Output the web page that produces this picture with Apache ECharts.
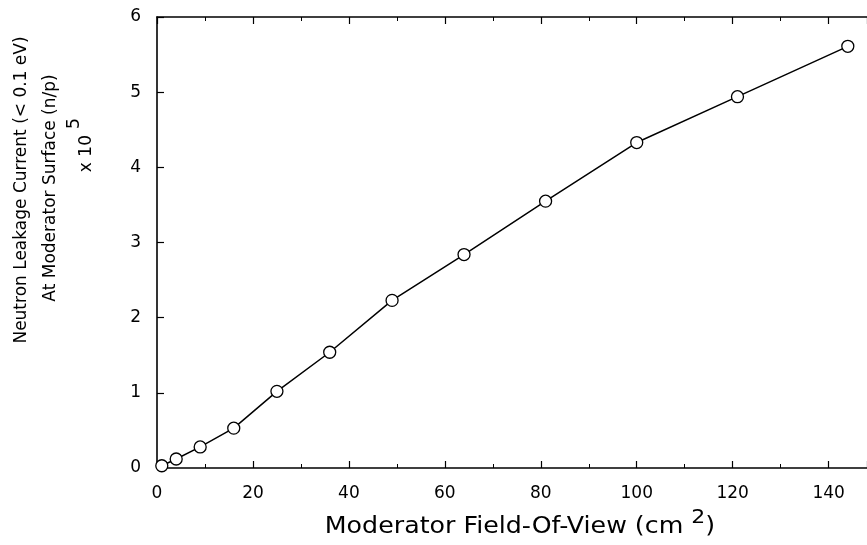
<!DOCTYPE html>
<html>
<head>
<meta charset="utf-8">
<script src="https://cdn.jsdelivr.net/npm/echarts@6/dist/echarts.min.js"></script>
<style>
    html, body { margin: 0; background: #fff; }
    #chart { width: 867px; height: 545px; }
</style>
</head>
<body>
<div id="chart"></div>
<script>
// moderator field-of-view (cm^2)
let fov = [1, 4, 9, 16, 25, 36, 49, 64, 81, 100, 121, 144];
// neutron leakage current (< 0.1 eV), n/p x 10^5
let leakage = [0.03, 0.12, 0.28, 0.53, 1.02, 1.54, 2.23, 2.84, 3.55, 4.33, 4.94, 5.61];
// tick labels
let xTicks = [0, 20, 40, 60, 80, 100, 120, 140];
let yTicks = [0, 1, 2, 3, 4, 5, 6];

let fontName = 'DejaVu Sans';
let ink = '#000';

function build_points() {
    let pts = [];
    for (let i = 0; i < fov.length; i++) {
        pts.push([fov[i], leakage[i]]);
    }
    return pts;
}

let chart = echarts.init(document.getElementById('chart'));

// plot is cut off at the right edge in the original, so the axis runs a bit past 140
let xBase = {
    type: 'value',
    min: xTicks[0],
    max: 148,
    interval: xTicks[1] - xTicks[0],
    splitLine: {show: false},
    axisLine: {show: true, lineStyle: {color: ink, width: 1.6}},
    axisTick: {show: true, inside: true, length: 7, lineStyle: {color: ink, width: 1.2}},
    minorTick: {show: true, splitNumber: 2, length: 4, lineStyle: {color: ink, width: 1}},
    minorSplitLine: {show: false}
};

let option = {
    backgroundColor: '#fff',
    animation: false,
    grid: {left: 157, right: 0, top: 17, bottom: 77},
    xAxis: [
        Object.assign({}, xBase, {
            position: 'bottom',
            axisLabel: {
                show: true, margin: 17, color: ink, fontFamily: fontName, fontSize: 17,
                customValues: xTicks
            }
        }),
        Object.assign({}, xBase, {
            position: 'top',
            axisLabel: {show: false}
        })
    ],
    yAxis: {
        type: 'value',
        min: yTicks[0],
        max: yTicks[yTicks.length - 1],
        interval: yTicks[1] - yTicks[0],
        splitLine: {show: false},
        axisLine: {show: true, lineStyle: {color: ink, width: 1.6}},
        axisTick: {show: true, inside: true, length: 7, lineStyle: {color: ink, width: 1.2}},
        axisLabel: {margin: 16, color: ink, fontFamily: fontName, fontSize: 17}
    },
    series: [{
        type: 'line',
        xAxisIndex: 0,
        data: build_points(),
        symbol: 'circle',
        symbolSize: 12,
        showAllSymbol: true,
        lineStyle: {color: ink, width: 1.5},
        itemStyle: {color: '#fff', borderColor: ink, borderWidth: 1.3}
    }],
    graphic: [
        {
            type: 'text', x: 22, y: 190, rotation: Math.PI / 2,
            style: {
                text: 'Neutron Leakage Current (< 0.1 eV)', fill: ink,
                font: '17px "DejaVu Sans"', align: 'center', verticalAlign: 'middle'
            }
        },
        {
            type: 'text', x: 51, y: 188, rotation: Math.PI / 2,
            style: {
                text: 'At Moderator Surface (n/p)', fill: ink,
                font: '17px "DejaVu Sans"', align: 'center', verticalAlign: 'middle'
            }
        },
        {
            type: 'text', x: 80, y: 145, rotation: Math.PI / 2,
            style: {
                text: '{m|x 10}{s| 5}', fill: ink, align: 'center', verticalAlign: 'middle',
                rich: {
                    m: {fontFamily: fontName, fontSize: 17, verticalAlign: 'bottom'},
                    s: {fontFamily: fontName, fontSize: 18, verticalAlign: 'bottom', padding: [0, 0, 12, 0]}
                }
            }
        },
        {
            type: 'text', x: 520, y: 523, scaleX: 1.1,
            style: {
                text: '{m|Moderator Field-Of-View (cm }{s|2}{m|)}', fill: ink,
                align: 'center', verticalAlign: 'middle',
                rich: {
                    m: {fontFamily: fontName, fontSize: 23, verticalAlign: 'bottom'},
                    s: {fontFamily: fontName, fontSize: 20, verticalAlign: 'bottom', padding: [0, 0, 11, 0]}
                }
            }
        }
    ]
};

chart.setOption(option);
</script>
</body>
</html>
